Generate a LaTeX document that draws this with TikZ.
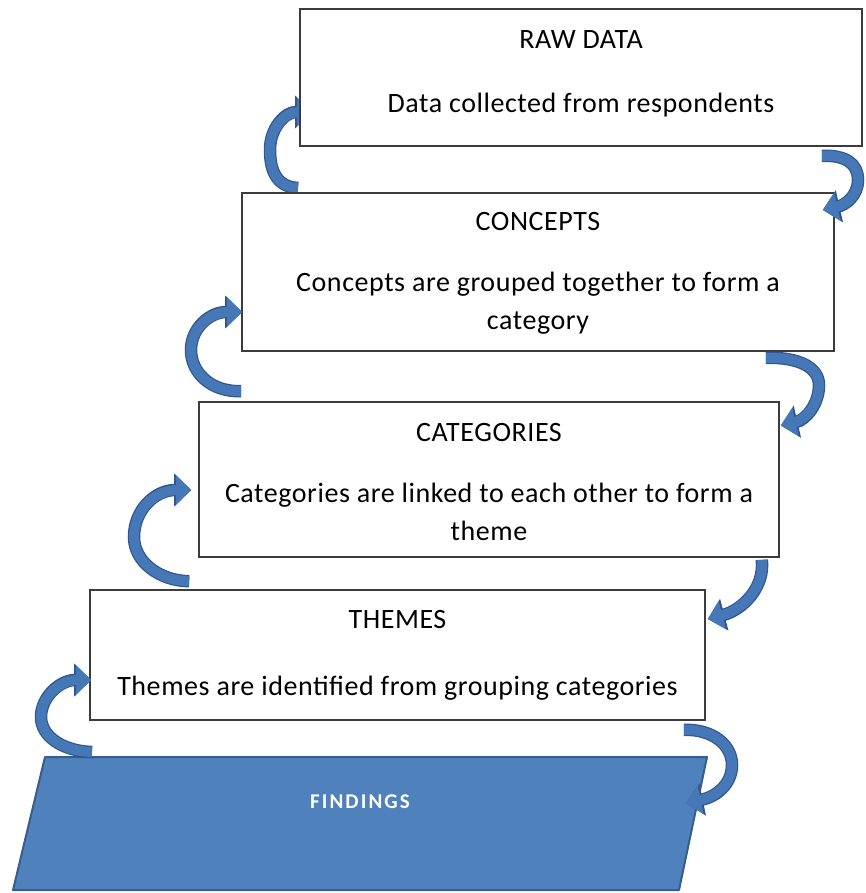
\documentclass[tikz,border=0pt]{standalone}
\usepackage{fontspec}
\setmainfont{Carlito}
\newfontfamily\spacedfont[LetterSpace=2]{Carlito}
\newfontfamily\widefont[LetterSpace=10]{Carlito}
\usetikzlibrary{arrows.meta,calc}
\definecolor{boxline}{RGB}{60,60,60}
\definecolor{fblue}{RGB}{79,129,189}
\definecolor{fborder}{RGB}{56,93,138}
\definecolor{ablue}{RGB}{70,119,182}
\definecolor{adark}{RGB}{48,88,140}
\begin{document}
\begin{tikzpicture}[x=1pt,y=-1pt,
  stage/.style={draw=boxline, line width=1.6pt, fill=white, rectangle, inner sep=0pt},
  ttl/.style={font=\spacedfont\fontsize{28}{32}\selectfont, text=black, inner sep=0pt},
  desc/.style={font=\spacedfont\fontsize{28}{38}\selectfont, align=center, inner sep=0pt},
  curl/.style={draw=ablue, line width=10pt, -{Triangle[length=15pt,width=28pt]},
    preaction={draw=adark, line width=12.5pt, -{Triangle[length=17pt,width=32pt]}}},
]
\useasboundingbox (0,0) rectangle (865,893);
% first left arrow lies behind the raw data box
\coordinate (c1tail) at (298,188);
\draw[curl] (c1tail) .. controls (275,187) and (270,168) .. (270,150) .. controls (270,128) and (285,112) .. (312,112);

\node[stage, minimum width=562pt, minimum height=137pt] (raw) at (581,77.5) {};
\node[stage, minimum width=592pt, minimum height=158pt] (concepts) at (538,272) {};
\node[stage, minimum width=580pt, minimum height=155pt] (categories) at (489,479.5) {};
\node[stage, minimum width=615pt, minimum height=130pt] (themes) at (397.5,655) {};

\coordinate (ftl) at (45,757);
\coordinate (ftr) at (707,757);
\coordinate (fbr) at (679,890);
\coordinate (fbl) at (13,890);
\draw[fill=fblue, draw=fborder, line width=2pt, line join=round] (ftl) -- (ftr) -- (fbr) -- (fbl) -- cycle;
\node[font=\widefont\bfseries\fontsize{21}{24}\selectfont, text=white] (findings) at (360,802) {FINDINGS};

\node[ttl] (t1) at (581,40) {RAW DATA};
\node[desc] (d1) at (581,105) {Data collected from respondents};
\node[ttl] (t2) at (538,222) {CONCEPTS};
\node[desc] (d2) at (538,303) {Concepts are grouped together to form a\\category};
\node[ttl] (t3) at (489,433) {CATEGORIES};
\node[desc] (d3) at (489,512) {Categories are linked to each other to form a\\theme};
\node[ttl] (t4) at (397.5,620) {THEMES};
\node[desc] (d4) at (397.5,688) {Themes are identified from grouping categories};

% left arrows
\draw[curl] ($(categories.north west)+(43,-10)$) .. controls (210,392) and (191,372) .. (191,350) .. controls (191,328) and (210,312) .. ($(concepts.west)+(1,40)$);
\draw[curl] ($(themes.north west)+(100,-8)$) .. controls (160,581) and (134,562) .. (134,537) .. controls (134,510) and (155,490) .. ($(categories.west)+(-7,10.5)$);
\draw[curl] ($(ftl)+(47,-5)$) .. controls (62,751) and (41,736) .. (41,717) .. controls (41,697) and (60,680) .. ($(themes.west)+(2,25)$);

% right arrows
\draw[curl] ($(raw.south east)+(-41,9)$) .. controls (845,155) and (858,163) .. (858,180) .. controls (858,196) and (845,205) .. ($(concepts.east)+(-12,-62)$);
\draw[curl] ($(concepts.south east)+(-69,6)$) .. controls (800,357) and (819,368) .. (819,385) .. controls (819,405) and (805,420) .. ($(categories.east)+(1,-54)$);
\draw[curl] ($(categories.south east)+(-18,2)$) .. controls (765,588) and (742,610) .. ($(themes.east)+(2,-36)$);
\draw[curl] ($(themes.south east)+(-22,9)$) .. controls (713,729) and (732,745) .. (732,765) .. controls (732,785) and (715,797) .. ($(ftr)+(-21,46)$);
\end{tikzpicture}
\end{document}
